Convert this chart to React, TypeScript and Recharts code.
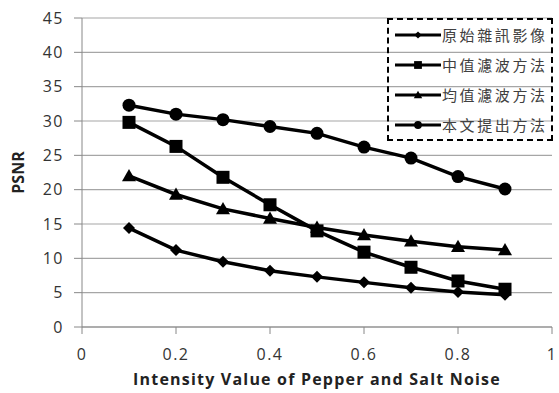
import { LineChart, Line, XAxis, YAxis, CartesianGrid, Legend, Label } from 'recharts';

const noise = [0.1, 0.2, 0.3, 0.4, 0.5, 0.6, 0.7, 0.8, 0.9];
const original = [14.4, 11.2, 9.5, 8.2, 7.3, 6.5, 5.7, 5.1, 4.7];
const median = [29.8, 26.3, 21.8, 17.8, 14.0, 10.9, 8.7, 6.7, 5.5];
const mean = [22.0, 19.3, 17.2, 15.8, 14.5, 13.4, 12.5, 11.7, 11.2];
const proposed = [32.3, 31.0, 30.2, 29.2, 28.2, 26.2, 24.6, 21.9, 20.1];

const seriesNames = ['原始雜訊影像', '中值濾波方法', '均值濾波方法', '本文提出方法'];
const xTicks = [0, 0.2, 0.4, 0.6, 0.8, 1];
const yTicks = [0, 5, 10, 15, 20, 25, 30, 35, 40, 45];

const data = noise.map((x, i) => ({
  x,
  original: original[i],
  median: median[i],
  mean: mean[i],
  proposed: proposed[i],
}));

const keys = ['original', 'median', 'mean', 'proposed'];
const shapes = ['diamond', 'square', 'triangle', 'circle'];

const Marker = ({ shape, cx, cy, s = 1 }: any) => {
  if (cx == null || cy == null) return null;
  if (shape === 'diamond') {
    const r = 6 * s;
    return <path d={`M${cx},${cy - r}L${cx + r},${cy}L${cx},${cy + r}L${cx - r},${cy}Z`} fill="#000" />;
  }
  if (shape === 'square') {
    const r = 6.5 * s;
    return <rect x={cx - r} y={cy - r} width={2 * r} height={2 * r} fill="#000" />;
  }
  if (shape === 'triangle') {
    const r = 7 * s;
    return <path d={`M${cx},${cy - r}L${cx + r},${cy + r * 0.75}L${cx - r},${cy + r * 0.75}Z`} fill="#000" />;
  }
  return <circle cx={cx} cy={cy} r={6.5 * s} fill="#000" />;
};

const makeDot = (shape: string) => (props: any) => (
  <Marker key={`${shape}-${props.index}`} shape={shape} cx={props.cx} cy={props.cy} />
);

const CustomLegend = () => (
  <div
    style={{
      border: '2px dashed #000',
      width: 166,
      height: 123,
      boxSizing: 'border-box',
      padding: '0 0 0 6px',
    }}
  >
    {seriesNames.map((name, i) => (
      <div key={name} style={{ display: 'flex', alignItems: 'center', height: 30 }}>
        <svg width={46} height={16} style={{ marginRight: 1 }}>
          <line x1={0} y1={8} x2={46} y2={8} stroke="#000" strokeWidth={3.2} />
          <Marker shape={shapes[i]} cx={23} cy={8} s={0.6} />
        </svg>
        <span
          style={{
            fontFamily: '"Noto Sans CJK TC", sans-serif',
            fontSize: 15,
            letterSpacing: 2.6,
            color: '#404040',
            lineHeight: '16px',
            whiteSpace: 'nowrap',
          }}
        >
          {name}
        </span>
      </div>
    ))}
  </div>
);

export default function App() {
  return (
    <div style={{ position: 'absolute', left: 0, top: 0, background: '#fff' }}>
      <LineChart
        width={559}
        height={393}
        data={data}
        margin={{ top: 18, right: 7, bottom: 0, left: 0 }}
        style={{ fontFamily: '"Open Sans", sans-serif' }}
      >
        <CartesianGrid vertical={false} stroke="#a6a6a6" strokeWidth={1.2} />
        <XAxis
          dataKey="x"
          type="number"
          domain={[0, 1]}
          ticks={xTicks}
          interval={0}
          height={66}
          stroke="#888"
          tickSize={7}
          tickMargin={15}
          tick={{ fill: '#333', fontSize: 16, letterSpacing: 1.5 }}
        >
          <Label
            value="Intensity Value of Pepper and Salt Noise"
            position="insideBottom"
            offset={8}
            style={{ fontWeight: 'bold', fontSize: 16, letterSpacing: 1.2, fill: '#222' }}
          />
        </XAxis>
        <YAxis
          width={82}
          domain={[0, 45]}
          ticks={yTicks}
          interval={0}
          stroke="#888"
          tickSize={8}
          tickMargin={10}
          tick={{ fill: '#333', fontSize: 16, letterSpacing: 1.5 }}
        >
          <Label
            value="PSNR"
            angle={-90}
            position="insideLeft"
            offset={18}
            style={{ fontWeight: 'bold', fontSize: 16, fill: '#222', textAnchor: 'middle' }}
          />
        </YAxis>
        <Legend
          layout="vertical"
          align="center"
          verticalAlign="middle"
          content={<CustomLegend />}
          wrapperStyle={{ position: 'absolute', left: 387, top: 18, width: 166 }}
        />
        {keys.map((k, i) => (
          <Line
            key={k}
            dataKey={k}
            name={seriesNames[i]}
            stroke="#000"
            strokeWidth={3.5}
            dot={makeDot(shapes[i])}
            activeDot={false}
            isAnimationActive={false}
          />
        ))}
      </LineChart>
    </div>
  );
}
